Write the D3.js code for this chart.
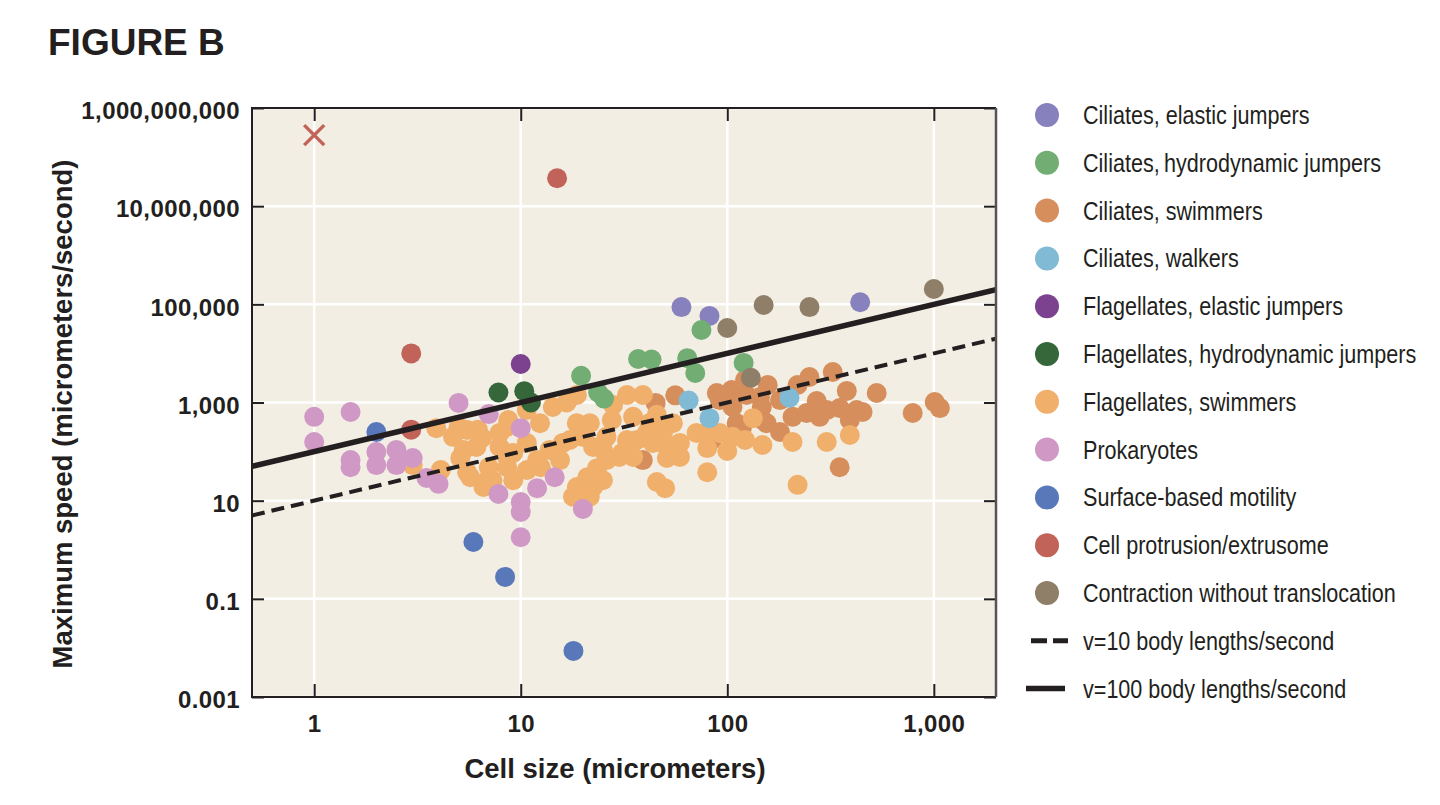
<!DOCTYPE html>
<html>
<head>
<meta charset="utf-8">
<script src="https://cdn.jsdelivr.net/npm/d3@7"></script>
<style>
  html, body { margin: 0; padding: 0; background: #fff; }
  svg { display: block; }
  text { font-family: "Liberation Sans", Arial, sans-serif; fill: #231f20; }
</style>
</head>
<body>
<svg id="chart" width="1440" height="805"></svg>
<script>
// values: [cell size (um), max speed (um/s)]
const ciliatesElastic = [[60, 88000], [82, 58000], [440, 110000]];
const ciliatesHydro = [[19.6, 3500], [23.7, 1600], [25.3, 1200], [37, 7700], [43, 7500], [64, 8000], [70, 4000], [75, 30000], [120, 6400]];
const ciliatesSwimmers = [[39, 67], [45, 980], [56, 1400], [84, 172], [89, 1560], [92, 1120], [105, 1800], [111, 380], [124, 1420],
    [147, 810], [148, 440], [157, 2270], [180, 1120], [180, 250], [207, 510], [219, 2270], [242, 610], [250, 3300], [271, 1070],
    [280, 510], [303, 700], [324, 4180], [350, 770], [379, 1720], [392, 440], [423, 700], [452, 640], [529, 1560], [790, 610],
    [1010, 1020], [1070, 770], [350, 48], [144, 1290], [155, 380], [122, 2900], [118, 320], [106, 810]];
const ciliatesWalkers = [[65, 1100], [82, 480], [200, 1250]];
const flagElastic = [[10, 6100]];
const flagHydro = [[7.8, 1600], [10.4, 1700], [11.2, 1000]];
const flagSwimmers = [[3.9, 300], [4.7, 200], [5.5, 275], [6.5, 190], [5.3, 108], [5.1, 74], [5.5, 38], [7, 48], [6.9, 26],
    [7.9, 124], [9.2, 94], [10.7, 150], [12, 67], [13.8, 108], [16, 150], [18.7, 380], [21.6, 380], [20, 200], [22.4, 124],
    [26, 200], [27.6, 440], [32.7, 1420], [39, 1420], [35, 510], [42, 380], [36.5, 172], [43.6, 150], [48.8, 240], [54.5, 380],
    [59, 150], [71, 240], [82, 275], [80, 118], [59, 78], [51, 74], [35, 78], [30, 78], [26, 67], [23.4, 46], [21, 30],
    [18.7, 19], [17.9, 12], [21.6, 12], [45.6, 24], [50, 18], [80, 38], [5.7, 30], [6.6, 19], [18.7, 1420], [14.3, 810],
    [10.7, 700], [8.7, 440], [12.4, 380], [4.1, 42], [3, 53], [6.1, 124], [7.9, 240], [45.6, 560], [92, 240], [106, 200],
    [133, 480], [148, 136], [100, 103], [207, 157], [303, 157], [392, 218], [219, 21], [122, 172], [17.3, 172], [25, 108],
    [32.7, 172], [40.8, 240], [51, 124], [25, 26], [31, 94], [22.4, 19], [8.6, 48], [28, 890], [16.7, 1000],
    [5, 317], [6.2, 280], [8.6, 320], [8.6, 78], [7.3, 26], [9.2, 26], [10.7, 42], [12.5, 48], [15.5, 67]];
const prokaryotes = [[1, 510], [1, 157], [1.5, 640], [1.5, 67], [1.5, 48], [2, 98], [2, 53], [2.5, 108], [2.5, 53], [3, 74],
    [3.5, 29], [4, 22], [5, 980], [7, 580], [10, 300], [7.8, 13.7], [10, 9.4], [10, 5.9], [10, 1.8], [12, 18], [14.6, 30], [20, 6.8]];
const surfaceMotility = [[2, 250], [5.9, 1.44], [8.4, 0.28], [18, 0.0087]];
const protrusion = [[15, 3.7e7], [2.95, 10000], [2.95, 280]];
const protrusionCross = [[1, 2.8e8]];
const contraction = [[100, 33000], [130, 3200], [150, 97000], [250, 88000], [1000, 205000]];

const xTicks = [1, 10, 100, 1000];
const yTicks = [0.001, 0.1, 10, 1000, 1e5, 1e7, 1e9];
const bodyLengthRates = [10, 100];

const categories = [
    { name: "Ciliates, elastic jumpers", color: "#8781bd", data: ciliatesElastic },
    { name: "Ciliates,\u2009hydrodynamic jumpers", color: "#72ad73", data: ciliatesHydro },
    { name: "Ciliates, swimmers", color: "#d68f5c", data: ciliatesSwimmers },
    { name: "Ciliates, walkers", color: "#80bad5", data: ciliatesWalkers },
    { name: "Flagellates, elastic jumpers", color: "#7c4290", data: flagElastic },
    { name: "Flagellates, hydrodynamic jumpers", color: "#35673b", data: flagHydro },
    { name: "Flagellates, swimmers", color: "#f0af6b", data: flagSwimmers },
    { name: "Prokaryotes", color: "#d098c4", data: prokaryotes },
    { name: "Surface-based motility", color: "#5878ba", data: surfaceMotility },
    { name: "Cell protrusion/extrusome", color: "#c2635a", data: protrusion },
    { name: "Contraction without translocation", color: "#8f7f68", data: contraction }
];
// the swimmer clouds sit underneath everything else
const drawOrder = [2, 6, 7, 0, 1, 3, 4, 5, 8, 9, 10];

const svg = d3.select("#chart");
const plot = { left: 252, top: 108, right: 996, bottom: 697 };

const x = d3.scaleLog().domain([0.5, 2000]).range([plot.left, plot.right]);
const y = d3.scaleLog().domain([0.001, 1e9]).range([plot.bottom, plot.top]);

svg.append("text")
    .attr("x", 48).attr("y", 55)
    .attr("font-size", "37px").attr("font-weight", "bold")
    .text("FIGURE B");

svg.append("rect")
    .attr("x", plot.left).attr("y", plot.top)
    .attr("width", plot.right - plot.left).attr("height", plot.bottom - plot.top)
    .attr("fill", "#f3eee3");

svg.append("clipPath").attr("id", "clip")
    .append("rect")
    .attr("x", plot.left).attr("y", plot.top)
    .attr("width", plot.right - plot.left).attr("height", plot.bottom - plot.top);

// white grid
const grid = svg.append("g").attr("stroke", "#fff").attr("stroke-width", 2.5);
grid.selectAll(".gx").data(xTicks).enter().append("line")
    .attr("x1", d => x(d)).attr("x2", d => x(d))
    .attr("y1", plot.top).attr("y2", plot.bottom);
grid.selectAll(".gy").data(yTicks).enter().append("line")
    .attr("y1", d => y(d)).attr("y2", d => y(d))
    .attr("x1", plot.left).attr("x2", plot.right);

const points = svg.append("g").attr("clip-path", "url(#clip)");
drawOrder.forEach(i => {
    const c = categories[i];
    points.append("g").selectAll("circle")
        .data(c.data)
        .enter().append("circle")
        .attr("cx", d => x(d[0]))
        .attr("cy", d => y(d[1]))
        .attr("r", 10)
        .attr("fill", c.color);
});

points.selectAll(".cross")
    .data(protrusionCross)
    .enter().append("path")
    .attr("d", d => {
        const cx = x(d[0]), cy = y(d[1]), s = 10;
        return `M${cx - s},${cy - s}L${cx + s},${cy + s}M${cx - s},${cy + s}L${cx + s},${cy - s}`;
    })
    .attr("stroke", categories[9].color)
    .attr("stroke-width", 3.5)
    .attr("fill", "none");

// constant body-length speed lines v = rate * size
const line = d3.line().x(d => x(d[0])).y(d => y(d[1]));
const xd = x.domain();
points.selectAll(".rate")
    .data(bodyLengthRates)
    .enter().append("path")
    .attr("d", r => line([[xd[0], xd[0] * r], [xd[1], xd[1] * r]]))
    .attr("stroke", "#231f20")
    .attr("stroke-width", r => r === 100 ? 5.5 : 4)
    .attr("stroke-dasharray", r => r === 100 ? null : "13,7")
    .attr("fill", "none");

// axes, ticks pointing inward
const yFormat = v => v >= 1 ? d3.format(",")(v) : String(v);
const styleAxis = g => {
    g.select(".domain").remove();
    g.selectAll(".tick line").attr("stroke", "#231f20").attr("stroke-width", 2);
    g.selectAll(".tick text").attr("font-size", "24px").attr("font-weight", "bold")
        .attr("letter-spacing", "0.4px").attr("fill", "#231f20");
};

svg.append("g")
    .attr("transform", `translate(0,${plot.bottom})`)
    .call(d3.axisBottom(x).tickValues(xTicks).tickFormat(d3.format(",")).tickSize(-13).tickPadding(18))
    .call(styleAxis);
svg.append("g")
    .attr("transform", `translate(0,${plot.top})`)
    .call(d3.axisTop(x).tickValues(xTicks).tickFormat("").tickSize(-13))
    .call(styleAxis);
svg.append("g")
    .attr("transform", `translate(${plot.left},0)`)
    .call(d3.axisLeft(y).tickValues(yTicks).tickFormat(yFormat).tickSize(-12).tickPadding(12))
    .call(styleAxis)
    .selectAll(".tick text").attr("dy", "0.45em");
svg.append("g")
    .attr("transform", `translate(${plot.right},0)`)
    .call(d3.axisRight(y).tickValues(yTicks).tickFormat("").tickSize(-12))
    .call(styleAxis);

svg.append("path")
    .attr("d", `M${plot.right},${plot.top}H${plot.left}V${plot.bottom}H${plot.right}`)
    .attr("fill", "none").attr("stroke", "#231f20").attr("stroke-width", 2);
svg.append("line")
    .attr("x1", plot.right).attr("x2", plot.right)
    .attr("y1", plot.top).attr("y2", plot.bottom)
    .attr("stroke", "#555").attr("stroke-width", 2.5);

svg.append("text")
    .attr("x", (plot.left + plot.right) / 2 - 9).attr("y", 778)
    .attr("text-anchor", "middle")
    .attr("font-size", "27.5px").attr("font-weight", "bold")
    .text("Cell size (micrometers)");

svg.append("text")
    .attr("transform", "translate(72,414) rotate(-90)")
    .attr("text-anchor", "middle")
    .attr("font-size", "27.5px").attr("font-weight", "bold")
    .text("Maximum speed (micrometers/second)");

// legend
const legendTop = 115, legendStep = 47.8;
const legendItems = categories.map(c => ({ type: "dot", name: c.name, color: c.color }))
    .concat([
        { type: "dash", name: "v=10 body lengths/second" },
        { type: "solid", name: "v=100 body lengths/second" }
    ]);

const legend = svg.append("g");
const item = legend.selectAll("g")
    .data(legendItems)
    .enter().append("g")
    .attr("transform", (d, i) => `translate(0,${legendTop + i * legendStep})`);

item.filter(d => d.type === "dot").append("circle")
    .attr("cx", 1047).attr("cy", 0).attr("r", 12)
    .attr("fill", d => d.color);
item.filter(d => d.type === "dash").append("line")
    .attr("x1", 1031).attr("x2", 1068)
    .attr("stroke", "#231f20").attr("stroke-width", 5)
    .attr("stroke-dasharray", "16,6");
item.filter(d => d.type === "solid").append("line")
    .attr("x1", 1026).attr("x2", 1065)
    .attr("stroke", "#231f20").attr("stroke-width", 5.5);

item.append("text")
    .attr("transform", "translate(1083,9) scale(0.83,1)")
    .attr("font-size", "26px")
    .text(d => d.name);
</script>
</body>
</html>
